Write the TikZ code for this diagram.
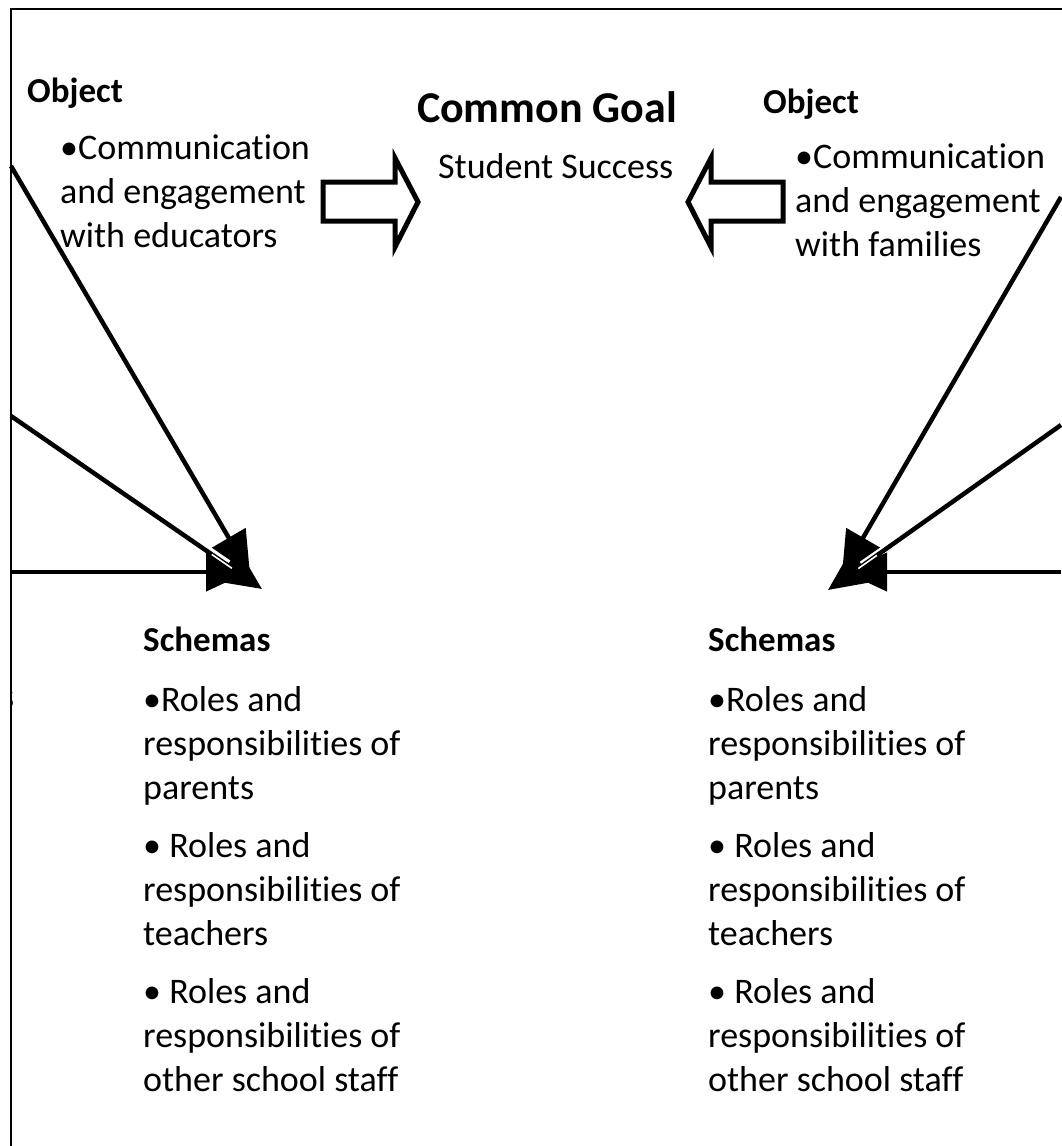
\documentclass[tikz,border=0pt]{standalone}
\usepackage{fontspec}
\setmainfont{Carlito}[Ligatures=NoCommon]
\usetikzlibrary{arrows.meta,calc}
\begin{document}
\begin{tikzpicture}[x=1pt,y=-1pt,
  title/.style={font=\bfseries\fontsize{35}{40}\selectfont, inner sep=0pt, anchor=base west},
  goaltitle/.style={font=\bfseries\fontsize{44}{52}\selectfont, inner sep=0pt, anchor=base},
  plain/.style={font=\fontsize{36}{44}\selectfont, inner sep=0pt, anchor=base west},
  body/.style={plain, text width=330pt, align=flush left},
  conn/.style={line width=4.5pt, -{Triangle[length=42pt,width=38pt]}},
  blockarrow/.style={line width=5pt, line join=miter, miter limit=10}]
\useasboundingbox (0,0) rectangle (1061,1146);

% outer frame (left and top edges)
\draw[line width=2pt] (11,1160) -- (11,9) -- (1075,9);

% clipped label tail at the left frame
\begin{scope}
  \clip (11,0) rectangle (1061,1146);
  \node[font=\fontsize{36}{44}\selectfont, inner sep=0pt, anchor=base east] (tail) at (14.5,708) {s};
\end{scope}

% common goal
\node[goaltitle] (goal) at (547,122) {Common Goal};
\node[plain] (success) at (438,178) {Student Success};

% left object
\node[title] (objLt) at (27,102) {Object};
\node[body] (objL) at (60,159) {•Communication\\and engagement\\with educators};

% right object
\node[title] (objRt) at (763,113) {Object};
\node[body] (objR) at (795,168) {•Communication\\and engagement\\with families};

% schemas
\node[title] (schLt) at (143,651) {Schemas};
\node[body] (schL) at (143,711) {•Roles and\\responsibilities of\\parents\\[14pt]%
• Roles and\\responsibilities of\\teachers\\[14pt]%
• Roles and\\responsibilities of\\other school staff};
\node[title] (schRt) at (708,651) {Schemas};
\node[body] (schR) at (708,711) {•Roles and\\responsibilities of\\parents\\[14pt]%
• Roles and\\responsibilities of\\teachers\\[14pt]%
• Roles and\\responsibilities of\\other school staff};

% block arrows towards the common goal
\draw[blockarrow] (323,182) -- (395,182) -- (395,158) -- (418,202) -- (395,247) -- (395,221) -- (323,221) -- cycle;
\draw[blockarrow] (783,182) -- (711,182) -- (711,158) -- (688,202) -- (711,247) -- (711,221) -- (783,221) -- cycle;

% connector end points
\coordinate (la1) at (11,166);  \coordinate (lt1) at (250,574);
\coordinate (la2) at (11,416);  \coordinate (lt2) at (262,589);
\coordinate (la3) at (11,572);  \coordinate (lt3) at (248,572);
\coordinate (ra1) at (1061,197); \coordinate (rt1) at (842,574);
\coordinate (ra2) at (1061,425); \coordinate (rt2) at (828,590);
\coordinate (ra3) at (1061,572); \coordinate (rt3) at (845,572);

% connectors into the schemas
\draw[conn] (la3) -- (lt3);
\draw[conn] (la2) -- (lt2);
\draw[conn] (la1) -- (lt1);
\draw[conn] (ra3) -- (rt3);
\draw[conn] (ra2) -- (rt2);
\draw[conn] (ra1) -- (rt1);

% thin light seam where the middle shafts meet the heads
\draw[white, line width=1.6pt] ($(la2)!0.80!(lt2)$) -- ($(la2)!0.88!(lt2)$);
\draw[white, line width=1.6pt] ($(ra2)!0.79!(rt2)$) -- ($(ra2)!0.87!(rt2)$);
\end{tikzpicture}
\end{document}
